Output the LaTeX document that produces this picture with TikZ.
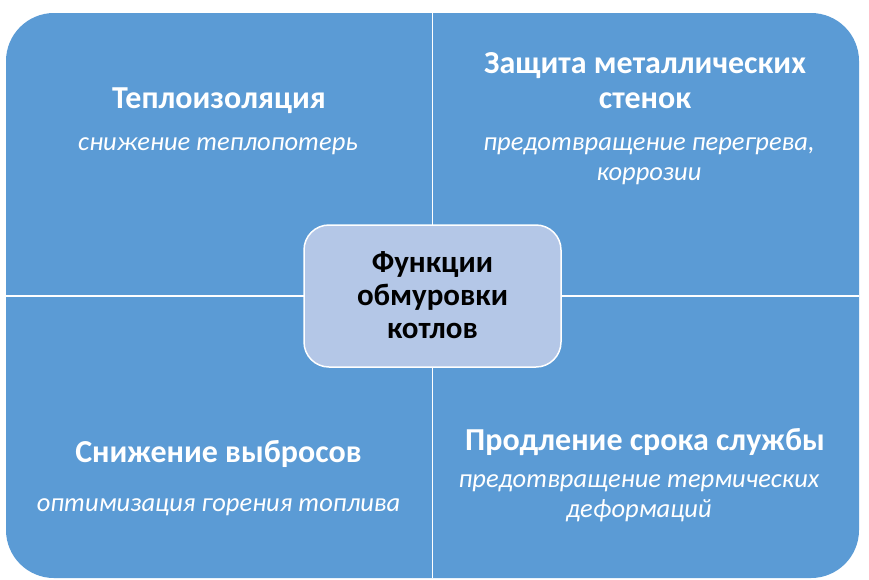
\documentclass[tikz,border=0pt]{standalone}
\usepackage{fontspec}
\setmainfont{Carlito}
\definecolor{quad}{HTML}{5B9BD5}
\definecolor{hub}{HTML}{B4C7E7}
\tikzset{
  ttl/.style={text=white, font=\fontsize{32}{35}\selectfont\bfseries, align=center, anchor=base, inner sep=0pt},
  sub/.style={text=white, font=\fontsize{26.5}{29.5}\selectfont\itshape, align=center, anchor=base, inner sep=0pt},
  hubbox/.style={fill=hub, draw=white, line width=1.5pt, rounded corners=25pt},
  divider/.style={draw=white, line width=1.2pt},
  hubtext/.style={text=black, font=\fontsize{31}{33}\selectfont\bfseries, align=center, anchor=base, inner sep=0pt}
}
\begin{document}
\begin{tikzpicture}[x=1pt,y=-1pt]
\useasboundingbox (0,0) rectangle (869,579);
\fill[quad, rounded corners=48pt] (6,13) rectangle (859,578);
\coordinate (vt) at (432.5,13);
\coordinate (vb) at (432.5,578);
\coordinate (hl) at (6,296);
\coordinate (hr) at (859,296);
\draw[divider] (vt) -- (vb);
\draw[divider] (hl) -- (hr);
\draw[hubbox] (304,225) rectangle (561,367);
\node[hubtext] (hub) at (432.5,338) {Функции\\обмуровки\\котлов};
\node[ttl] (t1) at (219,108) {Теплоизоляция};
\node[sub] (s1) at (218,150) {снижение теплопотерь};
\node[ttl] (t2) at (645,108) {Защита металлических\\стенок};
\node[sub] (s2) at (649,180) {предотвращение перегрева,\\коррозии};
\node[ttl] (t3) at (218.5,462) {Снижение выбросов};
\node[sub] (s3) at (218.5,511) {оптимизация горения топлива};
\node[ttl] (t4) at (645,450) {Продление срока службы};
\node[sub] (s4) at (639,517) {предотвращение термических\\деформаций};
\end{tikzpicture}
\end{document}
